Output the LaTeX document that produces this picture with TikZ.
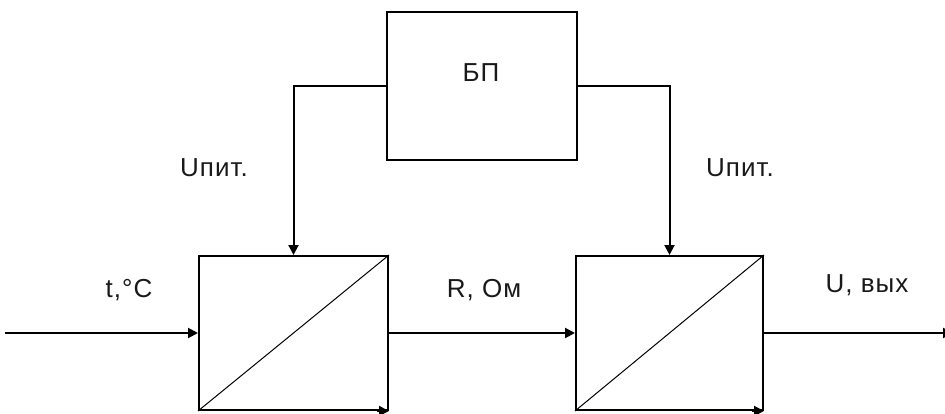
\documentclass[tikz,border=0pt]{standalone}
\usepackage{fontspec}
\setmainfont{Liberation Sans}
\usetikzlibrary{arrows.meta}
\begin{document}
\begin{tikzpicture}[x=1pt,y=-1pt,
  line width=2pt,
  txt/.style={font=\fontsize{26}{28}\selectfont\addfontfeatures{LetterSpace=4}},
  blk/.style={draw, rectangle, inner sep=0pt, txt},
  arr/.style={-{Triangle[length=10pt,width=10pt]}},
  lbl/.style={txt, text=black!90, inner sep=0pt, anchor=center},
  diag/.style={line width=1pt}]
\useasboundingbox (0,0) rectangle (945,414);

% power supply and the two converters
\node[blk, minimum width=190pt, minimum height=148pt] (bp) at (481.5,86) {};
\node[lbl] (bpl) at (481,73) {БП};
\node[blk, minimum width=189pt, minimum height=154pt] (c1) at (293.5,333) {};
\node[blk, minimum width=187pt, minimum height=154pt] (c2) at (669.5,333) {};

% converter symbols
\draw[diag] (c1.south west) -- (c1.north east);
\draw[diag] (c2.south west) -- (c2.north east);
\draw[arr] ([xshift=-12pt]c1.south east) -- (c1.south east);
\draw[arr] ([xshift=-12pt]c2.south east) -- (c2.south east);

% supply lines
\draw[arr] (bp.west) -| (c1.north);
\draw[arr] (bp.east) -| (c2.north);

% signal chain
\coordinate (in) at (5,333);
\coordinate (out) at (953,333);
\draw[arr] (in) -- (c1.west);
\draw[arr] (c1.east) -- (c2.west);
\draw[arr] (c2.east) -- (out);

% labels
\node[lbl] (lt) at (129,290) {t,°C};
\node[lbl] (lr) at (484,290) {R, Ом};
\node[lbl] (lu) at (867,285) {U, вых};
\node[lbl] (lp1) at (214,168) {Uпит.};
\node[lbl] (lp2) at (740,168) {Uпит.};
\end{tikzpicture}
\end{document}
